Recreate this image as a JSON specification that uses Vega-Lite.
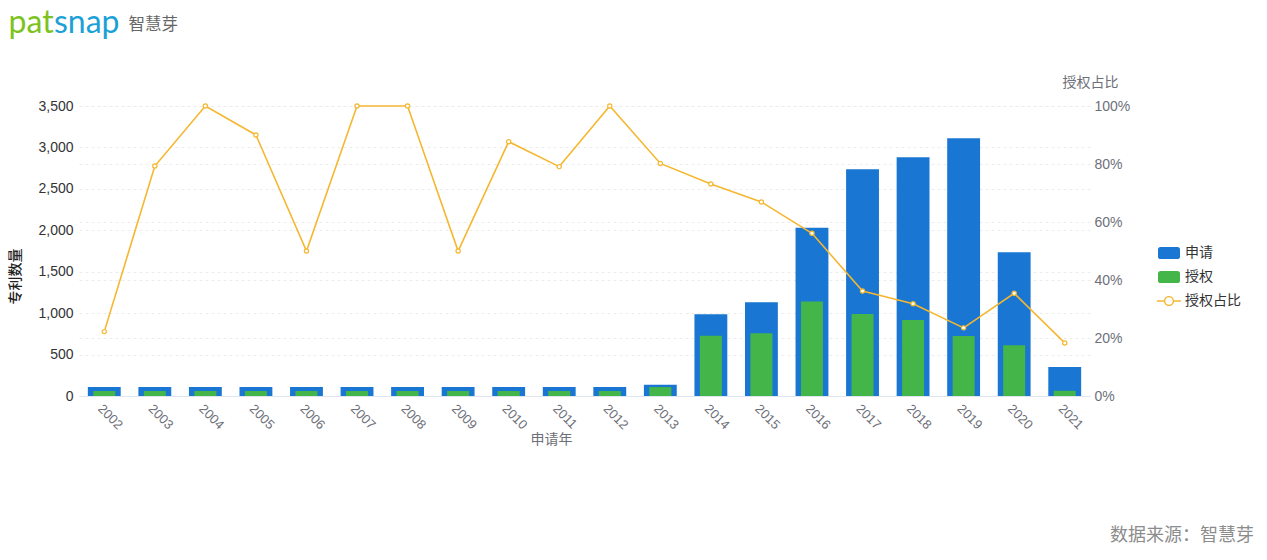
{
  "$schema": "https://vega.github.io/schema/vega-lite/v6.json",
  "width": 1011,
  "height": 290,
  "autosize": {"type": "none"},
  "padding": {"left": 79, "top": 106, "right": 177, "bottom": 164},
  "background": "white",
  "config": {
    "view": {"stroke": null},
    "font": "Liberation Sans, Noto Sans CJK SC",
    "axis": {"labelFont": "Liberation Sans, Noto Sans CJK SC", "titleFont": "Noto Sans CJK SC"}
  },
  "title": {
    "text": "数据来源：智慧芽",
    "orient": "bottom",
    "anchor": "end",
    "frame": "group",
    "offset": 0,
    "dx": 164,
    "dy": 81,
    "font": "Noto Sans CJK SC",
    "fontSize": 18,
    "fontWeight": "normal",
    "color": "#8c8c8c"
  },
  "data": {
    "values": [
      {"year": "2002", "apply": 110, "grant": 60, "ratio": 0.222},
      {"year": "2003", "apply": 110, "grant": 60, "ratio": 0.793},
      {"year": "2004", "apply": 110, "grant": 60, "ratio": 1.0},
      {"year": "2005", "apply": 110, "grant": 60, "ratio": 0.9},
      {"year": "2006", "apply": 110, "grant": 60, "ratio": 0.5},
      {"year": "2007", "apply": 110, "grant": 60, "ratio": 1.0},
      {"year": "2008", "apply": 110, "grant": 60, "ratio": 1.0},
      {"year": "2009", "apply": 110, "grant": 60, "ratio": 0.5},
      {"year": "2010", "apply": 110, "grant": 60, "ratio": 0.877},
      {"year": "2011", "apply": 110, "grant": 60, "ratio": 0.791},
      {"year": "2012", "apply": 110, "grant": 60, "ratio": 1.0},
      {"year": "2013", "apply": 135, "grant": 108, "ratio": 0.802},
      {"year": "2014", "apply": 986, "grant": 726, "ratio": 0.731},
      {"year": "2015", "apply": 1130, "grant": 757, "ratio": 0.669},
      {"year": "2016", "apply": 2032, "grant": 1140, "ratio": 0.561},
      {"year": "2017", "apply": 2737, "grant": 990, "ratio": 0.362},
      {"year": "2018", "apply": 2881, "grant": 917, "ratio": 0.318},
      {"year": "2019", "apply": 3110, "grant": 725, "ratio": 0.235},
      {"year": "2020", "apply": 1735, "grant": 612, "ratio": 0.354},
      {"year": "2021", "apply": 350, "grant": 63, "ratio": 0.183}
    ]
  },
  "layer": [
    {
      "layer": [
        {
          "mark": {"type": "bar"},
          "encoding": {
            "x": {
              "field": "year",
              "type": "ordinal",
              "scale": {"paddingInner": 0.35, "paddingOuter": 0.175},
              "axis": {
                "orient": "bottom",
                "title": "申请年",
                "labelAngle": 45,
                "labelFontSize": 13,
                "labelColor": "#6e7079",
                "labelPadding": 6,
                "ticks": false,
                "grid": false,
                "domainColor": "#e0e6f1",
                "titleX": 472,
                "titleY": 43,
                "titleAlign": "center",
                "titleBaseline": "middle",
                "titleFontSize": 14,
                "titleFontWeight": "normal",
                "titleColor": "#6e7079"
              }
            },
            "y": {
              "field": "apply",
              "type": "quantitative",
              "scale": {"domain": [0, 3500]},
              "axis": {
                "orient": "left",
                "title": "专利数量",
                "values": [0, 500, 1000, 1500, 2000, 2500, 3000, 3500],
                "format": ",.0f",
                "labelFontSize": 14,
                "labelColor": "#333333",
                "labelPadding": 6,
                "ticks": false,
                "domain": false,
                "grid": true,
                "gridColor": "#ececec",
                "gridDash": [3, 3],
                "titleAngle": -90,
                "titleX": -64,
                "titleY": 170,
                "titleAlign": "center",
                "titleBaseline": "middle",
                "titleFontSize": 14,
                "titleFontWeight": 500,
                "titleColor": "#222222"
              }
            },
            "color": {
              "datum": "申请",
              "type": "nominal",
              "scale": {"domain": ["申请", "授权", "授权占比"], "range": ["#1976d2", "#43b549", "#f5b730"]},
              "legend": {
                "orient": "none",
                "legendX": 1079,
                "legendY": 136,
                "title": null,
                "labelFont": "Noto Sans CJK SC",
                "labelFontSize": 14,
                "labelColor": "#333333",
                "labelOffset": 5,
                "rowPadding": 6,
                "symbolSize": 484,
                "encoding": {
                  "symbols": {
                    "shape": {"value": {"expr": "datum.value === '授权占比' ? 'M-1.1,-0.06 H-0.44 V0.06 H-1.1 Z M0.44,-0.06 H1.1 V0.06 H0.44 Z M0.46,0 A0.46,0.46 0 1 1 -0.46,0 A0.46,0.46 0 1 1 0.46,0 Z M0.34,0 A0.34,0.34 0 1 0 -0.34,0 A0.34,0.34 0 1 0 0.34,0 Z' : 'M-0.78,-0.55 H0.78 A0.22,0.22 0 0 1 1,-0.33 V0.33 A0.22,0.22 0 0 1 0.78,0.55 H-0.78 A0.22,0.22 0 0 1 -1,0.33 V-0.33 A0.22,0.22 0 0 1 -0.78,-0.55 Z'"}},
                    "fill": {"value": {"expr": "datum.value === '申请' ? '#1976d2' : datum.value === '授权' ? '#43b549' : '#f5b730'"}},
                    "fillOpacity": {"value": 1},
                    "strokeWidth": {"value": 0}
                  }
                }
              }
            }
          }
        },
        {
          "mark": {"type": "bar", "width": {"band": 0.67}},
          "encoding": {
            "x": {
              "field": "year",
              "type": "ordinal",
              "axis": {
                "orient": "top",
                "labels": false,
                "ticks": false,
                "domain": false,
                "grid": false,
                "title": "智慧芽",
                "titleX": 49,
                "titleY": -82,
                "titleAngle": 0,
                "titleAlign": "left",
                "titleBaseline": "middle",
                "titleFont": "Noto Sans CJK SC",
                "titleFontSize": 16.5,
                "titleFontWeight": "normal",
                "titleColor": "#666666"
              }
            },
            "y": {"field": "grant", "type": "quantitative"},
            "color": {"datum": "授权", "type": "nominal"}
          }
        }
      ]
    },
    {
      "mark": {"type": "line", "strokeWidth": 1.6},
      "encoding": {
        "x": {
          "field": "year",
          "type": "ordinal",
          "axis": {
            "orient": "top",
            "labels": false,
            "ticks": false,
            "domain": false,
            "grid": false,
            "title": "pat",
            "titleX": -71,
            "titleY": -74,
            "titleAngle": 0,
            "titleAlign": "left",
            "titleBaseline": "alphabetic",
            "titleFont": "Lato",
            "titleFontSize": 32,
            "titleFontWeight": "normal",
            "titleColor": "#7cc220"
          }
        },
        "y": {
          "field": "ratio",
          "type": "quantitative",
          "scale": {"domain": [0, 1]},
          "axis": {
            "orient": "right",
            "title": "授权占比",
            "values": [0, 0.2, 0.4, 0.6, 0.8, 1],
            "format": ".0%",
            "labelFontSize": 14,
            "labelColor": "#6e7079",
            "labelPadding": 4,
            "ticks": false,
            "domain": false,
            "grid": true,
            "gridColor": "#ececec",
            "gridDash": [3, 3],
            "titleAngle": 0,
            "titleX": 0,
            "titleY": -24,
            "titleAlign": "center",
            "titleBaseline": "middle",
            "titleFontSize": 14,
            "titleFontWeight": "normal",
            "titleColor": "#6e7079"
          }
        },
        "color": {"datum": "授权占比", "type": "nominal"}
      }
    },
    {
      "mark": {"type": "point", "filled": true, "fill": "#ffffff", "stroke": "#f5b730", "strokeWidth": 1.2, "size": 18, "opacity": 1},
      "encoding": {
        "x": {
          "field": "year",
          "type": "ordinal",
          "axis": {
            "orient": "top",
            "labels": false,
            "ticks": false,
            "domain": false,
            "grid": false,
            "title": "snap",
            "titleX": -25.5,
            "titleY": -74,
            "titleAngle": 0,
            "titleAlign": "left",
            "titleBaseline": "alphabetic",
            "titleFont": "Lato",
            "titleFontSize": 32,
            "titleFontWeight": "normal",
            "titleColor": "#1ba1d6"
          }
        },
        "y": {"field": "ratio", "type": "quantitative", "scale": {"domain": [0, 1]}, "axis": null}
      }
    }
  ],
  "resolve": {"scale": {"y": "independent"}}
}
